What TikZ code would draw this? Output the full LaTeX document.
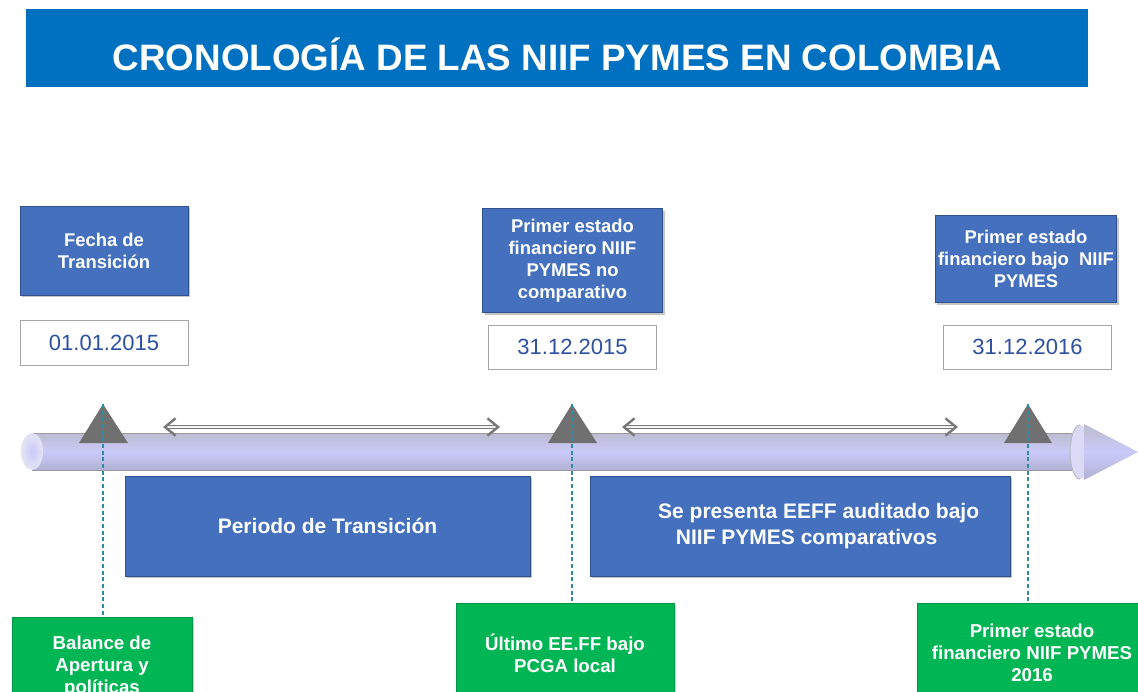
\documentclass[tikz,border=0pt]{standalone}
\usepackage{fontspec}
\setmainfont{Liberation Sans}
\usetikzlibrary{arrows.meta,shadows}
\definecolor{titleblue}{RGB}{0,112,192}
\definecolor{boxblue}{RGB}{68,112,190}
\definecolor{boxblueedge}{RGB}{47,82,143}
\definecolor{boxgreen}{RGB}{0,182,84}
\definecolor{boxgreenedge}{RGB}{0,150,70}
\definecolor{datetext}{RGB}{45,80,160}
\definecolor{dateedge}{RGB}{165,165,165}
\definecolor{trigray}{RGB}{112,112,112}
\definecolor{dashteal}{RGB}{45,140,165}
\definecolor{tubedark}{RGB}{128,128,138}
\definecolor{tubegray}{RGB}{185,185,198}
\definecolor{tubelav}{RGB}{202,202,250}
\definecolor{tubelow}{RGB}{170,170,200}
\definecolor{caplight}{RGB}{228,228,245}
\definecolor{arrowgray}{RGB}{120,120,120}
\pgfdeclareverticalshading{tube}{100bp}{color(0bp)=(tubedark); color(18bp)=(tubelow); color(50bp)=(tubelav); color(80bp)=(tubegray); color(100bp)=(tubedark)}
\begin{document}
\begin{tikzpicture}[x=0.75pt,y=-0.75pt,
  topbox/.style={rectangle, fill=boxblue, draw=boxblueedge, line width=0.6pt, text=white, align=center,
    font=\bfseries\fontsize{13.8}{16.5}\selectfont, inner sep=2pt,
    drop shadow={shadow xshift=1.5pt, shadow yshift=-1.8pt, opacity=0.45}},
  bigbox/.style={topbox, font=\bfseries\fontsize{15.75}{19.5}\selectfont},
  datebox/.style={rectangle, fill=white, draw=dateedge, line width=0.6pt, text=datetext,
    font=\fontsize{16.5}{19}\selectfont, minimum width=126pt, inner sep=0pt},
  greenbox/.style={rectangle, fill=boxgreen, draw=boxgreenedge, line width=0.6pt, text=white, align=center,
    font=\bfseries\fontsize{14}{16.5}\selectfont, inner sep=2pt,
    drop shadow={shadow xshift=1.5pt, shadow yshift=-1.5pt, opacity=0.35}},
  marker/.style={fill=trigray, draw=none},
  guide/.style={draw=dashteal, line width=0.9pt, dash pattern=on 3pt off 2pt},
  span/.style={draw=arrowgray, double=white!92!gray, double distance=1.2pt, line width=1.1pt,
    {Straight Barb[length=8pt,width=13pt,line width=1.8pt]}-{Straight Barb[length=8pt,width=13pt,line width=1.8pt]}}
]
\clip (0,0) rectangle (1138,692);
\fill[white] (0,0) rectangle (1138,692);

% title
\fill[titleblue] (26,9) rectangle (1088,87);
\node[anchor=base, text=white, font=\bfseries\fontsize{27.6}{32}\selectfont, inner sep=0pt] (title) at (557.5,70) {CRONOLOGÍA DE LAS NIIF PYMES EN COLOMBIA};

% top boxes
\node[topbox, minimum width=126pt, minimum height=66.75pt] (f1) at (104,250.5) {Fecha de\\Transición};
\node[topbox, minimum width=135pt, minimum height=78pt] (f2) at (572.5,260.5) {Primer estado\\financiero NIIF\\PYMES no\\comparativo};
\node[topbox, minimum width=135pt, minimum height=65.25pt] (f3) at (1026,259) {Primer estado\\financiero bajo\ \ NIIF\\PYMES};

% date boxes
\node[datebox, minimum height=33.75pt] (d1) at (104,343) {01.01.2015};
\node[datebox, minimum height=33pt] (d2) at (572.5,347) {31.12.2015};
\node[datebox, minimum height=33pt] (d3) at (1027.5,347) {31.12.2016};

% tube
\shade[shading=tube] (32,433) rectangle (1082,470);
\draw[tubedark!80, line width=0.4pt] (32,433) -- (1082,433) (32,470) -- (1082,470);
\shade[inner color=tubelav, outer color=caplight, draw=none] (32,451.5) ellipse [x radius=11, y radius=18.5];
% arrow head
\fill[caplight!60!tubelav] (1080,452) ellipse [x radius=10, y radius=27];
\shade[shading=tube] (1084,424) -- (1138,452) -- (1084,480) -- cycle;
\draw[tubegray, line width=0.8pt] (1080,425) arc[start angle=270, end angle=90, x radius=10, y radius=27];

% markers
\fill[marker] (103,404) -- (128,443) -- (79,443) -- cycle;
\fill[marker] (572,404) -- (597,443) -- (548,443) -- cycle;
\fill[marker] (1028,404) -- (1052,443) -- (1004,443) -- cycle;
\coordinate (t1) at (103,404);
\coordinate (t2) at (572,404);
\coordinate (t3) at (1028,404);

% span arrows
\coordinate (s1a) at (163,427);
\coordinate (s1b) at (500,427);
\coordinate (s2a) at (622,427);
\coordinate (s2b) at (958,427);
\draw[span] (s1a) -- (s1b);
\draw[span] (s2a) -- (s2b);

% period boxes
\node[bigbox, minimum width=303.75pt, minimum height=75pt] (b1) at (327.5,526) {Periodo de Transición};
\node[bigbox, minimum width=315pt, minimum height=75pt] (b2) at (800,526) {\hspace*{28pt}Se presenta EEFF auditado bajo\\\hspace*{10pt}NIIF PYMES comparativos};

% green boxes
\node[greenbox, minimum width=135pt, minimum height=75pt] (g1) at (102,667) {Balance de\\Apertura y\\políticas};
\node[greenbox, minimum width=163.5pt, minimum height=75pt] (g2) at (565,653) {Último EE.FF bajo\\PCGA local};
\node[greenbox, minimum width=172.5pt, minimum height=75pt] (g3) at (1032,653) {Primer estado\\financiero NIIF PYMES\\2016};

% guides
\draw[guide] (t1) -- (t1 |- g1.north);
\draw[guide] (t2) -- (t2 |- g2.north);
\draw[guide] (t3) -- (t3 |- g3.north);
\end{tikzpicture}
\end{document}
